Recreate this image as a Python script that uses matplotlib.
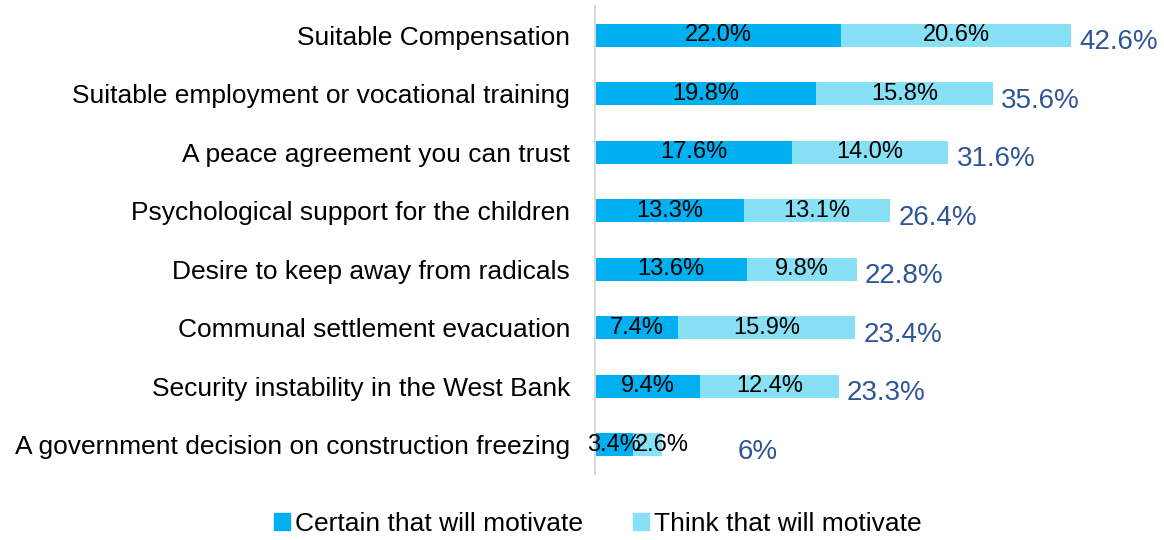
import matplotlib
matplotlib.use("Agg")
import matplotlib.pyplot as plt
from matplotlib.patches import Patch

plt.rcParams['font.family'] = ['Liberation Sans', 'DejaVu Sans']

categories = [
    "Suitable Compensation",
    "Suitable employment or vocational training",
    "A peace agreement you can trust",
    "Psychological support for the children",
    "Desire to keep away from radicals",
    "Communal settlement evacuation",
    "Security instability in the West Bank",
    "A government decision on construction freezing",
]
certain = [22.0, 19.8, 17.6, 13.3, 13.6, 7.4, 9.4, 3.4]
think = [20.6, 15.8, 14.0, 13.1, 9.8, 15.9, 12.4, 2.6]
totals = ["42.6%", "35.6%", "31.6%", "26.4%", "22.8%", "23.4%", "23.3%", "6%"]
series_names = ["Certain that will motivate", "Think that will motivate"]

c1 = "#00B0F0"
c2 = "#87E0F3"
tot_color = "#2F5597"

fig = plt.figure(figsize=(11.64, 5.4), dpi=100)
ax = fig.add_axes([595/1164, 1-474/540, 569/1164, 468/540])

y = list(range(len(categories)))
h = 0.39
b1 = ax.barh(y, certain, height=h, color=c1)
b2 = ax.barh(y, think, left=certain, height=h, color=c2)

for i in y:
    ax.text(certain[i]/2, i, f"{certain[i]:.1f}%", ha="center", va="center",
            fontsize=17, color="black")
    if think[i] < 5:
        ax.text(certain[i] + 0.2, i, f"{think[i]:.1f}%", ha="left", va="center",
                fontsize=17, color="black")
    else:
        ax.text(certain[i] + think[i]/2, i, f"{think[i]:.1f}%", ha="center", va="center",
                fontsize=17, color="black")
    end = max(certain[i] + think[i], 12.0)
    ax.annotate(totals[i], (end, i), xytext=(6, -5), textcoords="offset points",
                ha="left", va="center", fontsize=20, color=tot_color)

ax.set_ylim(len(categories)-0.5, -0.5)
ax.set_xlim(0, 569/11.18)
ax.set_yticks(y)
ax.set_yticklabels(categories, fontsize=19)
ax.tick_params(axis="y", length=0, pad=18)
ax.set_xticks([])
for s in ["top", "right", "bottom"]:
    ax.spines[s].set_visible(False)
ax.spines["left"].set_color("#D9D9D9")
ax.spines["left"].set_linewidth(1.5)

handles = [Patch(color=c1), Patch(color=c2)]
fig.legend(handles, series_names, loc="center", bbox_to_anchor=(598/1164, 1-524/540),
           ncol=2, frameon=False, fontsize=19, handlelength=0.6, handleheight=0.6,
           handletextpad=0.2, columnspacing=1.9)

fig.savefig("out.png", dpi=100)
